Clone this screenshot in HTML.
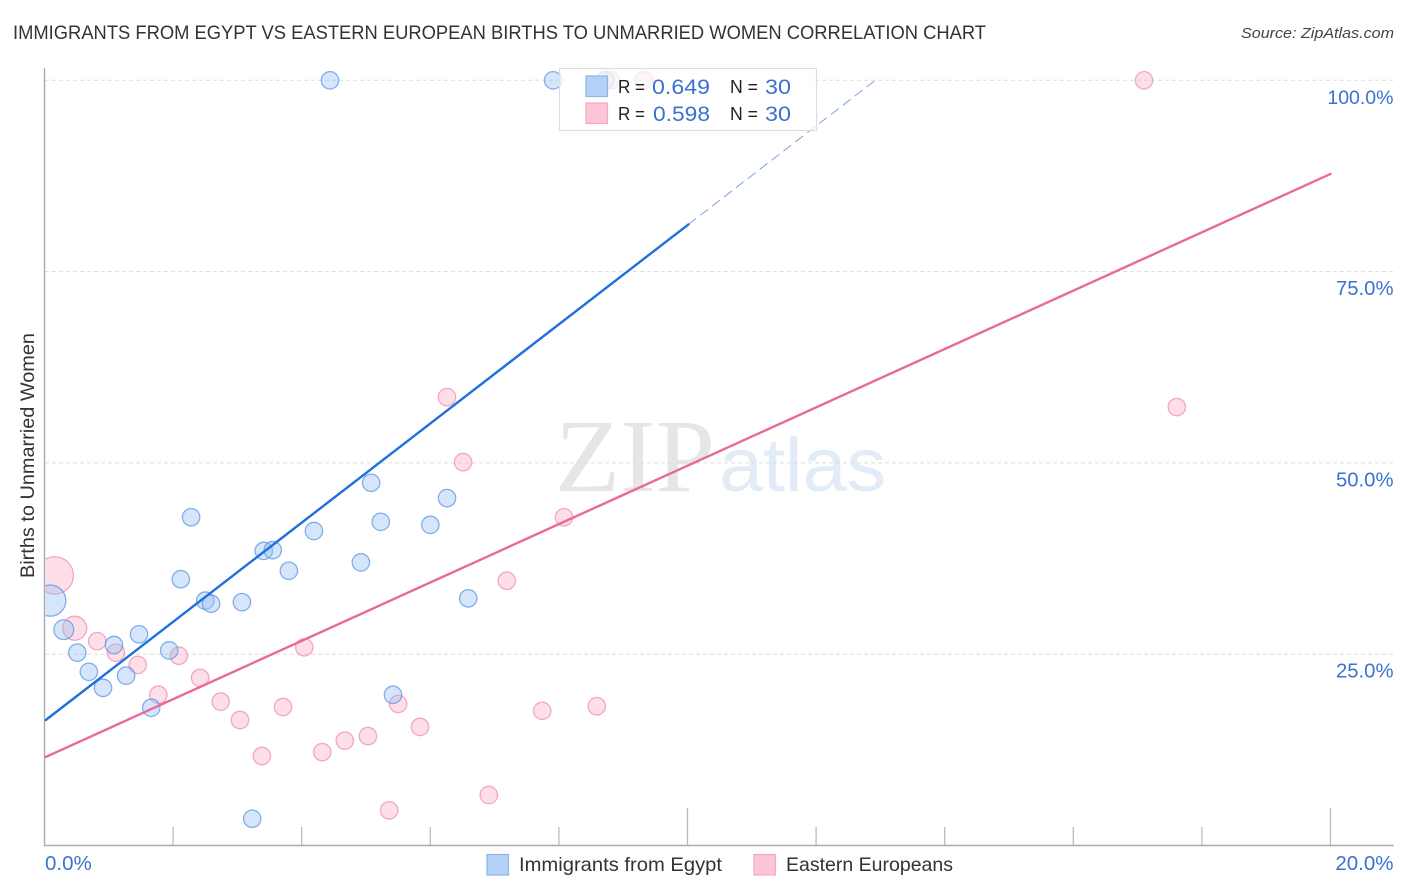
<!DOCTYPE html>
<html lang="en">
<head>
<meta charset="utf-8">
<title>Immigrants from Egypt vs Eastern European Births to Unmarried Women Correlation Chart</title>
<style>
html,body{margin:0;padding:0;background:#fff;}
svg{display:block;font-family:"Liberation Sans",sans-serif;}
</style>
</head>
<body>
<svg id="chart" xmlns="http://www.w3.org/2000/svg" width="1406" height="892" viewBox="0 0 1406 892">
  <rect width="1406" height="892" fill="#fff"/>
  <text x="13" y="39" font-size="19.5" fill="#333" textLength="973" lengthAdjust="spacingAndGlyphs">IMMIGRANTS FROM EGYPT VS EASTERN EUROPEAN BIRTHS TO UNMARRIED WOMEN CORRELATION CHART</text>
  <text x="1241" y="38" font-size="15" font-style="italic" fill="#444" textLength="153" lengthAdjust="spacingAndGlyphs">Source: ZipAtlas.com</text>
  <text x="555" y="491" font-family="'Liberation Serif',serif" font-size="104" fill="#e6e6e6" textLength="160" lengthAdjust="spacingAndGlyphs">ZIP</text>
  <text x="719" y="491" font-size="76" fill="#e2ebf8" textLength="167" lengthAdjust="spacingAndGlyphs">atlas</text>
  <defs>
    <clipPath id="plot-clip"><rect x="45.5" y="60" width="1350" height="785"/></clipPath>
  </defs>
  <g id="grid"></g>
  <g id="axes"></g>
  <g id="marks" clip-path="url(#plot-clip)"></g>
  <g id="trends"></g>

  <g>
    <rect x="559.5" y="68.5" width="257" height="62" fill="#fff" fill-opacity="0.72" stroke="#ddd" stroke-width="1.2"/>
    <rect x="586" y="76" width="21.5" height="20.5" fill="#b4d1f6" stroke="#8db5ea" stroke-width="1.2"/>
    <rect x="586" y="103" width="21.5" height="20.5" fill="#fcc6d8" stroke="#f3a9c1" stroke-width="1.2"/>
    <text x="618" y="93" font-size="18.5" fill="#222" textLength="27" lengthAdjust="spacingAndGlyphs">R =</text>
    <text x="652" y="94" font-size="21.5" fill="#3a72d2" textLength="58" lengthAdjust="spacingAndGlyphs">0.649</text>
    <text x="730" y="93" font-size="18.5" fill="#222" textLength="28" lengthAdjust="spacingAndGlyphs">N =</text>
    <text x="765" y="94" font-size="21.5" fill="#3a72d2" textLength="26" lengthAdjust="spacingAndGlyphs">30</text>
    <text x="618" y="120" font-size="18.5" fill="#222" textLength="27" lengthAdjust="spacingAndGlyphs">R =</text>
    <text x="653" y="121" font-size="21.5" fill="#3a72d2" textLength="57" lengthAdjust="spacingAndGlyphs">0.598</text>
    <text x="730" y="120" font-size="18.5" fill="#222" textLength="28" lengthAdjust="spacingAndGlyphs">N =</text>
    <text x="765" y="121" font-size="21.5" fill="#3a72d2" textLength="26" lengthAdjust="spacingAndGlyphs">30</text>
  </g>

  <text transform="translate(34 578) rotate(-90)" font-size="19" fill="#333" textLength="245" lengthAdjust="spacingAndGlyphs">Births to Unmarried Women</text>

  <g>
    <rect x="487" y="854.5" width="21.5" height="20.5" fill="#b4d1f6" stroke="#8db5ea" stroke-width="1.2"/>
    <text x="519" y="871" font-size="19.5" fill="#333" textLength="203" lengthAdjust="spacingAndGlyphs">Immigrants from Egypt</text>
    <rect x="754" y="854.5" width="21.5" height="20.5" fill="#fcc6d8" stroke="#f3a9c1" stroke-width="1.2"/>
    <text x="786" y="871" font-size="19.5" fill="#333" textLength="167" lengthAdjust="spacingAndGlyphs">Eastern Europeans</text>
  </g>
</svg>
<script>
// Category and value arrays (percent units).
const xTickValues = [0, 2, 4, 6, 8, 10, 12, 14, 16, 18, 20];
const xMajorTicks = [10, 20];
const xTickLabels = ['0.0%', '20.0%'];
const xTickLabelValues = [0, 20];
const yGridValues = [100, 75, 50, 25];
const yTickLabels = ['100.0%', '75.0%', '50.0%', '25.0%'];

const egyptX = [4.44, 7.91, 8.72, 2.28, 2.12, 2.50, 2.59, 3.07, 3.41, 3.55, 3.80, 4.19, 4.92, 5.08, 5.23, 6.00, 6.26, 6.59, 5.42, 3.23, 1.66, 1.27, 0.91, 0.69, 0.51, 0.30, 1.08, 1.47, 1.94, 0.09];
const egyptY = [100, 100, 100, 42.9, 34.8, 32.0, 31.6, 31.8, 38.5, 38.6, 35.9, 41.1, 37.0, 47.4, 42.3, 41.9, 45.4, 32.3, 19.7, 3.5, 18.0, 22.2, 20.6, 22.7, 25.2, 28.2, 26.2, 27.6, 25.5, 32.0];
const egyptWeight = [1, 1, 1, 1, 1, 1, 1, 1, 1, 1, 1, 1, 1, 1, 1, 1, 1, 1, 1, 1, 1, 1, 1, 1, 1, 1.3, 1, 1, 1, 3.2];

const easternX = [17.10, 9.32, 8.81, 6.26, 6.51, 17.61, 8.08, 7.19, 4.04, 5.50, 5.84, 7.74, 8.59, 6.91, 5.36, 5.03, 4.67, 4.32, 3.71, 3.38, 3.04, 2.74, 2.42, 2.09, 1.77, 1.45, 1.11, 0.82, 0.47, 0.16];
const easternY = [100, 100, 100, 58.6, 50.1, 57.3, 42.9, 34.6, 25.9, 18.5, 15.5, 17.6, 18.2, 6.6, 4.6, 14.3, 13.7, 12.2, 18.1, 11.7, 16.4, 18.8, 21.9, 24.8, 19.7, 23.6, 25.2, 26.7, 28.4, 35.3];
const easternWeight = [1, 1, 1, 1, 1, 1, 1, 1, 1, 1, 1, 1, 1, 1, 1, 1, 1, 1, 1, 1, 1, 1, 1, 1, 1, 1, 1, 1, 1.9, 4.6];

const egyptTrendX = [0.02, 10.02];
const egyptTrendY = [16.4, 81.2];
const egyptProjectionX = [10.02, 12.92];
const egyptProjectionY = [81.2, 100];
const easternTrendX = [0.02, 20];
const easternTrendY = [11.57, 87.76];

// Axis functions
const NS = 'http://www.w3.org/2000/svg';
function xScale(v) { return 44.5 + v * 64.3; }
function yScale(v) { return 845.5 - v * 7.652; }
function radius(w) { return 8.7 * Math.sqrt(w); }
function make(tag, attrs, parent) {
  const el = document.createElementNS(NS, tag);
  Object.keys(attrs).forEach(function (k) { el.setAttribute(k, attrs[k]); });
  parent.appendChild(el);
  return el;
}
const grid = document.getElementById('grid');
const axes = document.getElementById('axes');
const marks = document.getElementById('marks');
const trends = document.getElementById('trends');

yGridValues.forEach(function (v, i) {
  const y = yScale(v);
  const line = make('line', { x1: 45, x2: 1393, y1: y, y2: y, stroke: '#dcdcdc', 'stroke-width': 1, 'stroke-dasharray': '4 3' }, grid);
  
  
  const label = make('text', { x: 1393.5, y: y + 23.5, 'font-size': yTickLabels[i].length > 5 ? 19.5 : 20.3, fill: '#3a72d2', 'text-anchor': 'end' }, axes);
  label.textContent = yTickLabels[i];
  
  
});

const yAxisLine = make('line', { x1: 44.5, x2: 44.5, y1: 68, y2: 846, stroke: '#aaa', 'stroke-width': 1.4 }, axes);


const xAxisLine = make('line', { x1: 44, x2: 1394, y1: 845.5, y2: 845.5, stroke: '#aaa', 'stroke-width': 1.4 }, axes);



xTickValues.forEach(function (v) {
  if (v === 0) return;
  const x = xScale(v);
  const top = xMajorTicks.indexOf(v) >= 0 ? 808 : 827;
  const tick = make('line', { x1: x, x2: x, y1: top, y2: 845, stroke: '#bbb', 'stroke-width': 1.3 }, axes);
  
  
});

xTickLabels.forEach(function (t, i) {
  const v = xTickLabelValues[i];
  const label = make('text', { x: v === 0 ? 45 : 1393.5, y: 870, 'font-size': 20.5, fill: '#3a72d2', 'text-anchor': v === 0 ? 'start' : 'end' }, axes);
  label.textContent = t;
  
  
});

function drawPoints(xs, ys, ws, fill, stroke) {
  xs.forEach(function (v, i) {
    const c = make('circle', { cx: xScale(v), cy: yScale(ys[i]), r: radius(ws[i]), fill: fill, 'fill-opacity': 0.38, stroke: stroke, 'stroke-opacity': 0.75, 'stroke-width': 1.3 }, marks);
    
    
  });
}
drawPoints(easternX, easternY, easternWeight, '#f9a8c4', '#f08db0');
drawPoints(egyptX, egyptY, egyptWeight, '#94bdf3', '#5f97e2');

function drawTrend(xs, ys, color, width, dash, name) {
  const attrs = { x1: xScale(xs[0]), y1: yScale(ys[0]), x2: xScale(xs[1]), y2: yScale(ys[1]), stroke: color, 'stroke-width': width, 'stroke-linecap': 'round' };
  if (dash) attrs['stroke-dasharray'] = dash;
  const l = make('line', attrs, trends);
  
  
}
drawTrend(egyptTrendX, egyptTrendY, '#1f6fdc', 2.4, null, 'trend-line-egypt');
drawTrend(egyptProjectionX, egyptProjectionY, '#7ea3d8', 1, '9 6', 'trend-projection-egypt');
drawTrend(easternTrendX, easternTrendY, '#e8699a', 2.4, null, 'trend-line-eastern-european');
</script>
</body>
</html>
